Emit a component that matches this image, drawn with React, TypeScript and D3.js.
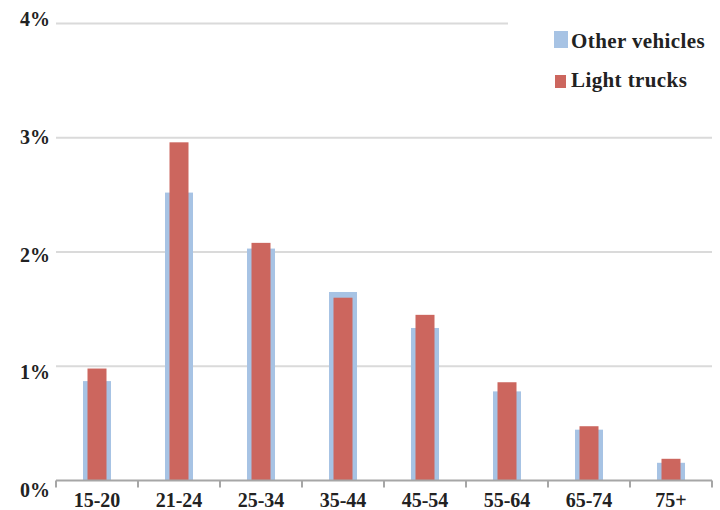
import React, { useEffect, useRef } from "react";
import * as d3 from "d3";

// Age groups of drivers
const ageGroups = ["15-20", "21-24", "25-34", "35-44", "45-54", "55-64", "65-74", "75+"];
// Share (%) for each vehicle type
const otherVehicles = [0.87, 2.52, 2.03, 1.65, 1.335, 0.78, 0.445, 0.155];
const lightTrucks = [0.98, 2.96, 2.08, 1.60, 1.45, 0.86, 0.475, 0.19];
const yTicks = [0, 1, 2, 3, 4];
const seriesNames = ["Other vehicles", "Light trucks"];

const W = 720;
const H = 510;
const BLUE = "#a7c3e4";
const RED = "#cc665e";
const FONT = "'Palatino Linotype', 'Book Antiqua', Palatino, 'Liberation Serif', serif";

export default function App() {
  const ref = useRef<SVGSVGElement | null>(null);

  useEffect(() => {
    const svg = d3.select(ref.current);
    svg.selectAll("*").remove();

    const left = 56;
    const right = 712;
    const top = 23.5;
    const bottom = 480.5;

    const x = d3.scaleBand<string>().domain(ageGroups).range([left, right]).padding(0);
    const y = d3.scaleLinear().domain([0, 4]).range([bottom, top]);
    // tick labels sit on a slightly wider spread than the gridlines
    const yLabel = d3.scaleLinear().domain([0, 4]).range([490, 19]);

    // gridlines
    svg
      .append("g")
      .selectAll("line")
      .data(yTicks.filter((t) => t > 0))
      .join("line")
      .attr("x1", left)
      .attr("x2", (d) => (d === 4 ? 508 : right))
      .attr("y1", (d) => y(d))
      .attr("y2", (d) => y(d))
      .attr("stroke", "#dadada")
      .attr("stroke-width", 2);

    // y labels
    svg
      .append("g")
      .selectAll("text")
      .data(yTicks)
      .join("text")
      .attr("x", 50)
      .attr("y", (d) => yLabel(d))
      .attr("dy", "0.35em")
      .attr("text-anchor", "end")
      .attr("font-family", FONT)
      .attr("font-weight", "bold")
      .attr("font-size", 20)
      .attr("fill", "#222")
      .text((d) => `${d}%`);

    const bw = x.bandwidth();
    const blueW = 28;
    const redW = 19;

    // back bars: other vehicles
    svg
      .append("g")
      .selectAll("rect")
      .data(otherVehicles)
      .join("rect")
      .attr("x", (_, i) => (x(ageGroups[i]) as number) + bw / 2 - blueW / 2)
      .attr("width", blueW)
      .attr("y", (d) => y(d))
      .attr("height", (d) => bottom - y(d))
      .attr("fill", BLUE);

    // front bars: light trucks
    svg
      .append("g")
      .selectAll("rect")
      .data(lightTrucks)
      .join("rect")
      .attr("x", (_, i) => (x(ageGroups[i]) as number) + bw / 2 - redW / 2)
      .attr("width", redW)
      .attr("y", (d) => y(d))
      .attr("height", (d) => bottom - y(d))
      .attr("fill", RED);

    // x axis
    const axis = svg.append("g");
    axis
      .append("line")
      .attr("x1", left)
      .attr("x2", right)
      .attr("y1", bottom)
      .attr("y2", bottom)
      .attr("stroke", "#a6a6a6")
      .attr("stroke-width", 2);
    const boundaries = ageGroups.map((g) => x(g) as number).concat([right]);
    axis
      .selectAll("line.tick")
      .data(boundaries)
      .join("line")
      .attr("class", "tick")
      .attr("x1", (d) => d)
      .attr("x2", (d) => d)
      .attr("y1", bottom)
      .attr("y2", bottom + 7)
      .attr("stroke", "#a6a6a6")
      .attr("stroke-width", 2);
    axis
      .selectAll("text")
      .data(ageGroups)
      .join("text")
      .attr("x", (d) => (x(d) as number) + bw / 2)
      .attr("y", 507)
      .attr("text-anchor", "middle")
      .attr("font-family", FONT)
      .attr("font-weight", "bold")
      .attr("font-size", 20)
      .attr("fill", "#222")
      .text((d) => d);

    // legend
    const legend = svg.append("g");
    const items = [
      { name: seriesNames[0], color: BLUE, sx: 554, sy: 31, sw: 14, sh: 17, ty: 48 },
      { name: seriesNames[1], color: RED, sx: 555, sy: 75, sw: 11, sh: 13, ty: 87 },
    ];
    items.forEach((it) => {
      legend
        .append("rect")
        .attr("x", it.sx)
        .attr("y", it.sy)
        .attr("width", it.sw)
        .attr("height", it.sh)
        .attr("fill", it.color);
      legend
        .append("text")
        .attr("x", 571)
        .attr("y", it.ty)
        .attr("font-family", FONT)
        .attr("font-weight", "bold")
        .attr("font-size", 21)
        .attr("letter-spacing", 0.4)
        .attr("fill", "#222")
        .text(it.name);
    });
  }, []);

  return (
    <svg
      ref={ref}
      width={W}
      height={H}
      style={{ position: "absolute", left: 0, top: 0, background: "#fff" }}
    />
  );
}
